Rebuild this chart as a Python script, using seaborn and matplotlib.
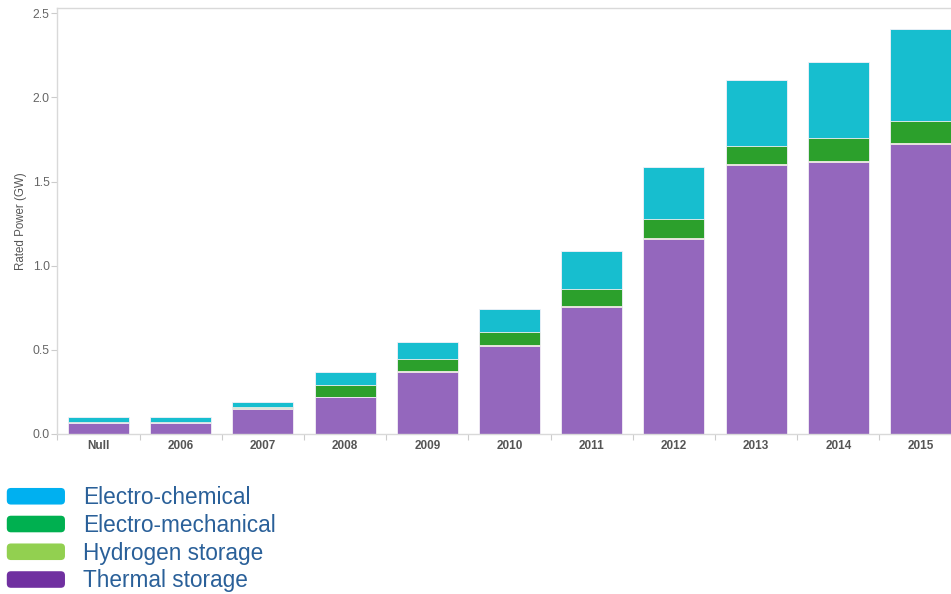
import pandas as pd
import seaborn as sns
import matplotlib.pyplot as plt
from matplotlib.patches import Patch, FancyBboxPatch
from matplotlib.legend_handler import HandlerPatch

# values (GW)
years = ['Null', '2006', '2007', '2008', '2009', '2010', '2011', '2012', '2013', '2014', '2015']
thermal = [0.063, 0.063, 0.150, 0.218, 0.370, 0.524, 0.756, 1.160, 1.599, 1.619, 1.722]
hydrogen = [0.002, 0.002, 0.002, 0.004, 0.004, 0.004, 0.005, 0.005, 0.005, 0.005, 0.005]
mechanical = [0.008, 0.008, 0.006, 0.069, 0.071, 0.078, 0.100, 0.110, 0.108, 0.136, 0.133]
chemical = [0.030, 0.030, 0.034, 0.075, 0.101, 0.134, 0.226, 0.309, 0.392, 0.453, 0.545]

legend_labels = ['Electro-chemical', 'Electro-mechanical', 'Hydrogen storage', 'Thermal storage']
legend_colors = ['#00b0f0', '#00b050', '#92d050', '#7030a0']

df = pd.DataFrame({'year': years, 'thermal': thermal, 'hydrogen': hydrogen,
                   'mechanical': mechanical, 'chemical': chemical})
df['l_thermal'] = df['thermal']
df['l_hydrogen'] = df['l_thermal'] + df['hydrogen']
df['l_mechanical'] = df['l_hydrogen'] + df['mechanical']
df['l_chemical'] = df['l_mechanical'] + df['chemical']

sns.set_style('white')
plt.rcParams['font.family'] = ['Liberation Sans', 'DejaVu Sans']

fig = plt.figure(figsize=(9.51, 5.94), dpi=100)
ax = fig.add_axes([57.4 / 951, 1 - 434 / 594, 904.2 / 951, (434 - 8.3) / 594])

# stacked bars: draw cumulative layers from the top down
layers = [('l_chemical', '#17becf'), ('l_mechanical', '#2ca02c'),
          ('l_hydrogen', '#bcbd22'), ('l_thermal', '#9467bd')]
for col, c in layers:
    sns.barplot(data=df, x='year', y=col, order=years, color=c, width=0.74,
                saturation=1, edgecolor='#f4f0f8', linewidth=0.6, ax=ax)

ax.set_xlim(-0.5, len(years) - 0.5)
ax.set_ylim(0, 2.53)
ax.set_yticks([0, 0.5, 1.0, 1.5, 2.0, 2.5])
ax.set_yticklabels(['0.0', '0.5', '1.0', '1.5', '2.0', '2.5'])
ax.set_xlabel('')
ax.set_ylabel('Rated Power (GW)', fontsize=8.3, color='#555555', labelpad=4)

ax.tick_params(axis='y', length=4, width=0.8, color='#cccccc', labelsize=8.8,
               labelcolor='#666666', left=True, pad=1.5)
ax.tick_params(axis='x', which='major', length=0, labelsize=8.5, labelcolor='#555555', pad=4)
for t in ax.get_xticklabels():
    t.set_fontweight('bold')
ax.set_xticks([i - 0.5 for i in range(len(years) + 1)], minor=True)
ax.tick_params(axis='x', which='minor', length=4, width=0.8, color='#cccccc', bottom=True)

for s in ['left', 'bottom', 'top']:
    ax.spines[s].set_visible(True)
    ax.spines[s].set_color('#d9d9d9')
    ax.spines[s].set_linewidth(1)
ax.spines['right'].set_visible(False)


class RoundBox(HandlerPatch):
    def create_artists(self, legend, orig_handle, xdescent, ydescent, width, height, fontsize, trans):
        p = FancyBboxPatch((-xdescent, -ydescent), width, height,
                           boxstyle='round,pad=0,rounding_size=3',
                           facecolor=orig_handle.get_facecolor(), edgecolor='none', transform=trans)
        return [p]


handles = [Patch(facecolor=c) for c in legend_colors]
fig.legend(handles, legend_labels, loc='upper left', bbox_to_anchor=(0.0, 0.193),
           frameon=False, fontsize=16.3, labelcolor='#2a6099',
           handlelength=2.57, handleheight=0.75, handletextpad=0.8, labelspacing=0.21,
           borderaxespad=0, borderpad=0.3,
           handler_map={Patch: RoundBox()})

fig.savefig('out.png', dpi=100)
